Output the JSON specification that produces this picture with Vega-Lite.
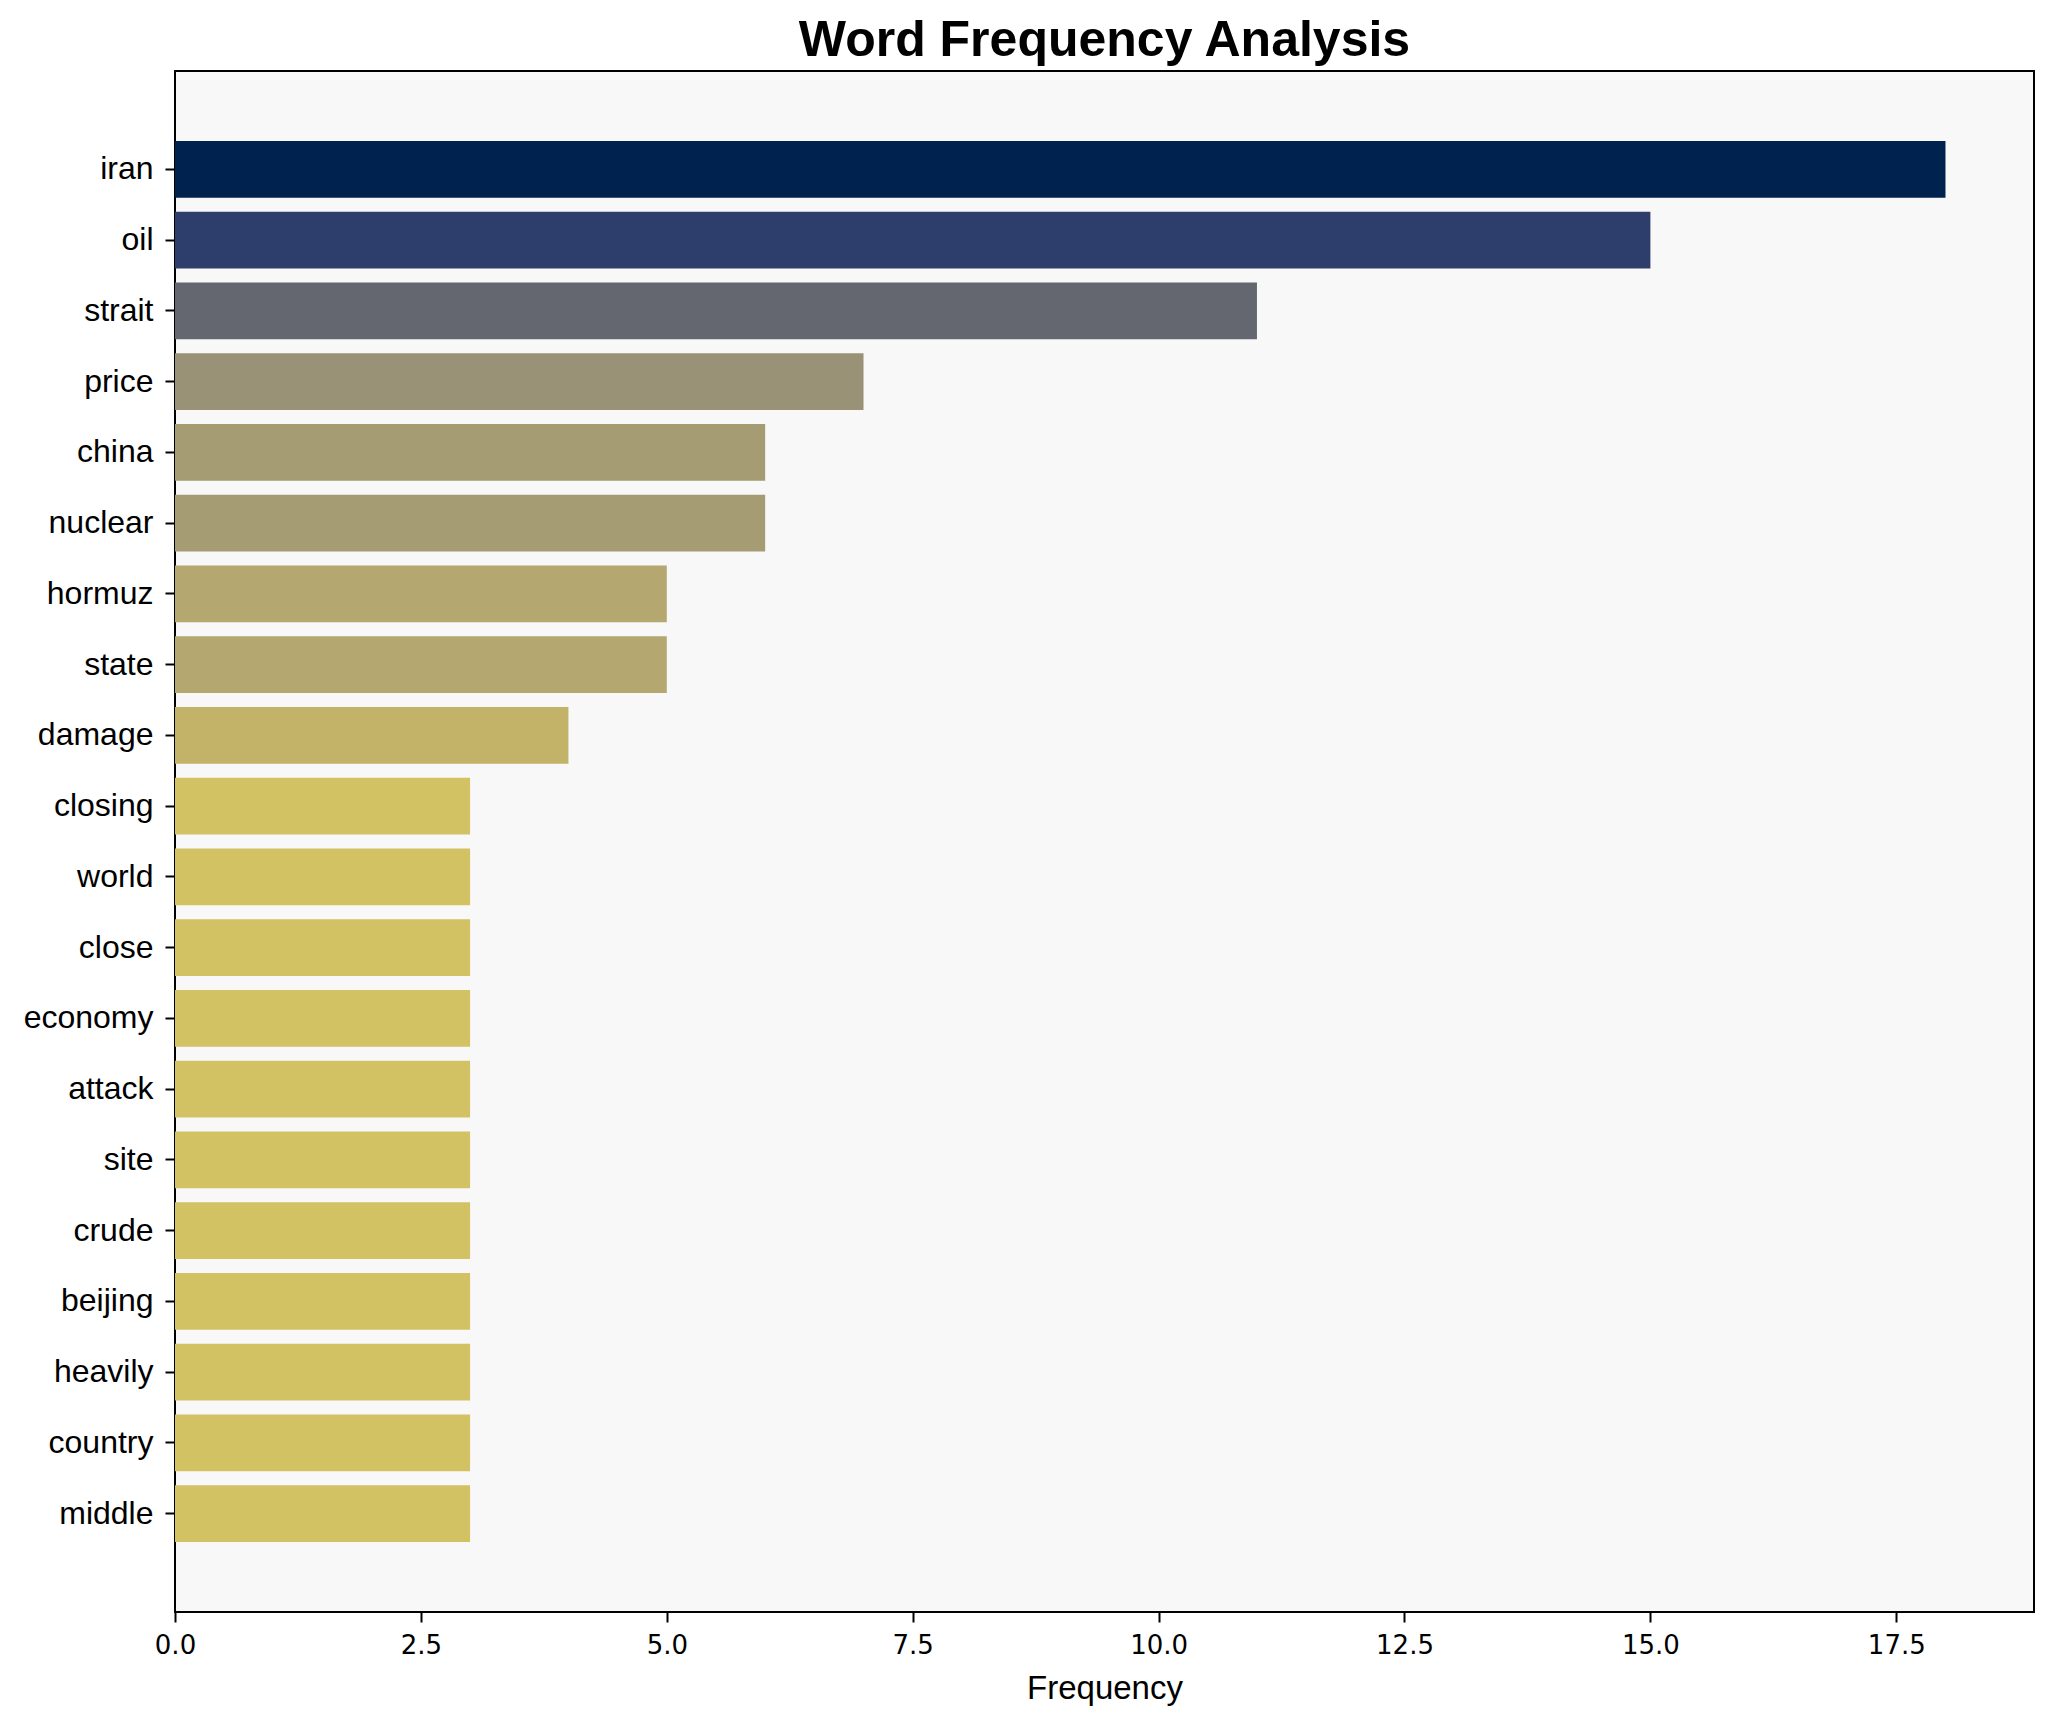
{
  "$schema": "https://vega.github.io/schema/vega-lite/v6.json",
  "autosize": {"type": "none"},
  "padding": {"left": 175, "top": 71, "right": 20, "bottom": 110},
  "width": 1859,
  "height": 1541,
  "background": "white",
  "title": {
    "text": "Word Frequency Analysis",
    "font": "Liberation Sans",
    "fontSize": 50,
    "fontWeight": "bold",
    "color": "black",
    "anchor": "middle",
    "offset": 5
  },
  "config": {
    "view": {"fill": "#f8f8f8", "stroke": "black", "strokeWidth": 2}
  },
  "data": {
    "values": [
      {"word": "iran", "freq": 18},
      {"word": "oil", "freq": 15},
      {"word": "strait", "freq": 11},
      {"word": "price", "freq": 7},
      {"word": "china", "freq": 6},
      {"word": "nuclear", "freq": 6},
      {"word": "hormuz", "freq": 5},
      {"word": "state", "freq": 5},
      {"word": "damage", "freq": 4},
      {"word": "closing", "freq": 3},
      {"word": "world", "freq": 3},
      {"word": "close", "freq": 3},
      {"word": "economy", "freq": 3},
      {"word": "attack", "freq": 3},
      {"word": "site", "freq": 3},
      {"word": "crude", "freq": 3},
      {"word": "beijing", "freq": 3},
      {"word": "heavily", "freq": 3},
      {"word": "country", "freq": 3},
      {"word": "middle", "freq": 3}
    ]
  },
  "mark": {"type": "bar"},
  "encoding": {
    "y": {
      "field": "word",
      "type": "nominal",
      "sort": null,
      "scale": {"paddingInner": 0.2, "paddingOuter": 0.99},
      "axis": {
        "title": null,
        "domain": false,
        "ticks": true,
        "tickColor": "black",
        "tickWidth": 2,
        "tickSize": 10,
        "labelFont": "Liberation Sans",
        "labelFontSize": 32,
        "labelColor": "black",
        "labelPadding": 12
      }
    },
    "x": {
      "field": "freq",
      "type": "quantitative",
      "scale": {"domain": [0, 18.9], "nice": false, "zero": true},
      "axis": {
        "title": "Frequency",
        "titleFont": "Liberation Sans",
        "titleFontSize": 33,
        "titleFontWeight": "normal",
        "titleColor": "black",
        "titlePadding": 14,
        "grid": false,
        "domain": false,
        "labelFlush": false,
        "values": [0, 2.5, 5, 7.5, 10, 12.5, 15, 17.5],
        "format": ".1f",
        "tickColor": "black",
        "tickWidth": 2,
        "tickSize": 10,
        "labelFont": "DejaVu Sans",
        "labelFontSize": 26,
        "labelColor": "black",
        "labelPadding": 10
      }
    },
    "color": {
      "field": "freq",
      "type": "quantitative",
      "scale": {
        "type": "linear",
        "domain": [3, 4, 5, 6, 7, 11, 15, 18],
        "range": ["#d3c264", "#c2b369", "#b4a76f", "#a59c74", "#999277", "#646770", "#2d3e6d", "#00224f"]
      },
      "legend": null
    }
  }
}
